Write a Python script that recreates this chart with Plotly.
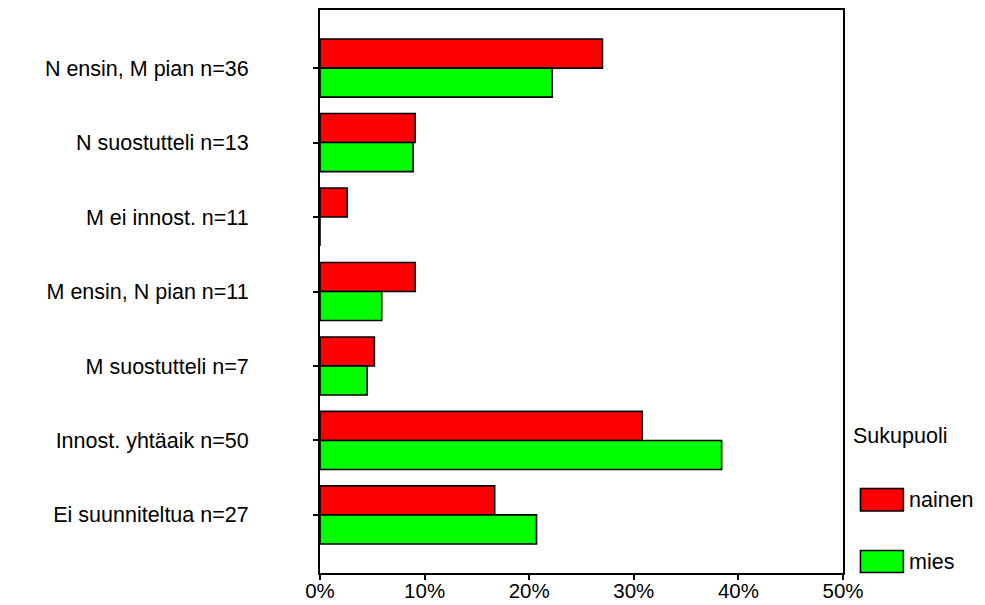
import plotly.graph_objects as go

categories = [
    "N ensin, M pian n=36",
    "N suostutteli n=13",
    "M ei innost. n=11",
    "M ensin, N pian n=11",
    "M suostutteli n=7",
    "Innost. yhtäaik n=50",
    "Ei suunniteltua n=27",
]
nainen = [27.0, 9.1, 2.6, 9.1, 5.2, 30.8, 16.7]
mies = [22.2, 8.9, 0.0, 5.9, 4.5, 38.4, 20.7]
x_ticks = [0, 10, 20, 30, 40, 50]
x_ticktext = ["0%", "10%", "20%", "30%", "40%", "50%"]
legend_title = "Sukupuoli"
series_names = ["nainen", "mies"]
series_colors = ["#FF0000", "#00FF00"]

W, H = 985, 605
ML, MR, MT, MB = 319.5, 141.5, 10, 32
PW, PH = W - ML - MR, H - MT - MB
FONT = "Liberation Sans, Arial, sans-serif"
FS = 21.5


def px_x(x):
    return (x - ML) / PW


def px_y(y):
    return (H - MB - y) / PH


fig = go.Figure()
for name, vals, col in zip(series_names, [nainen, mies], series_colors):
    fig.add_trace(go.Bar(
        y=categories, x=vals, name=name, orientation="h",
        marker=dict(color=col, line=dict(color="black", width=1.6)),
        showlegend=False,
    ))

fig.update_layout(
    width=W, height=H,
    margin=dict(l=ML, r=MR, t=MT, b=MB, autoexpand=False),
    paper_bgcolor="white", plot_bgcolor="white",
    barmode="group", bargap=0.22, bargroupgap=0,
    font=dict(family=FONT, size=FS, color="black"),
)
fig.update_xaxes(
    range=[0, 50], tickvals=x_ticks, ticktext=x_ticktext,
    showgrid=False, zeroline=False,
    showline=True, linecolor="black", linewidth=2, mirror=True,
    ticks="outside", ticklen=5, tickwidth=1.5, tickcolor="black",
    tickfont=dict(family=FONT, size=20.5, color="black"),
    ticklabelstandoff=-7,
)
fig.update_yaxes(
    type="category", categoryorder="array", categoryarray=categories,
    range=[6.78, -0.78],
    showgrid=False, zeroline=False,
    showline=True, linecolor="black", linewidth=2, mirror=True,
    ticks="outside", ticklen=5, tickwidth=1.5, tickcolor="black",
    tickfont=dict(family=FONT, size=FS, color="black"),
    ticklabelstandoff=60,
)

# Custom legend
fig.add_annotation(
    x=px_x(852), y=px_y(436), xref="paper", yref="paper",
    text=legend_title, showarrow=False, xanchor="left", yanchor="middle",
    font=dict(family=FONT, size=FS, color="black"),
)
boxes = [(488.5, 511), (550.5, 572.5)]
for (y0, y1), name, col in zip(boxes, series_names, series_colors):
    fig.add_shape(
        type="rect", xref="paper", yref="paper",
        x0=px_x(861), x1=px_x(904), y0=px_y(y1), y1=px_y(y0),
        fillcolor=col, line=dict(color="black", width=1.6),
    )
    fig.add_annotation(
        x=px_x(908), y=px_y((y0 + y1) / 2), xref="paper", yref="paper",
        text=name, showarrow=False, xanchor="left", yanchor="middle",
        font=dict(family=FONT, size=FS, color="black"),
    )

fig.write_html(
    "out.html",
    config={"displayModeBar": False},
    post_script="document.body.style.margin='0';document.body.style.padding='0';",
)
